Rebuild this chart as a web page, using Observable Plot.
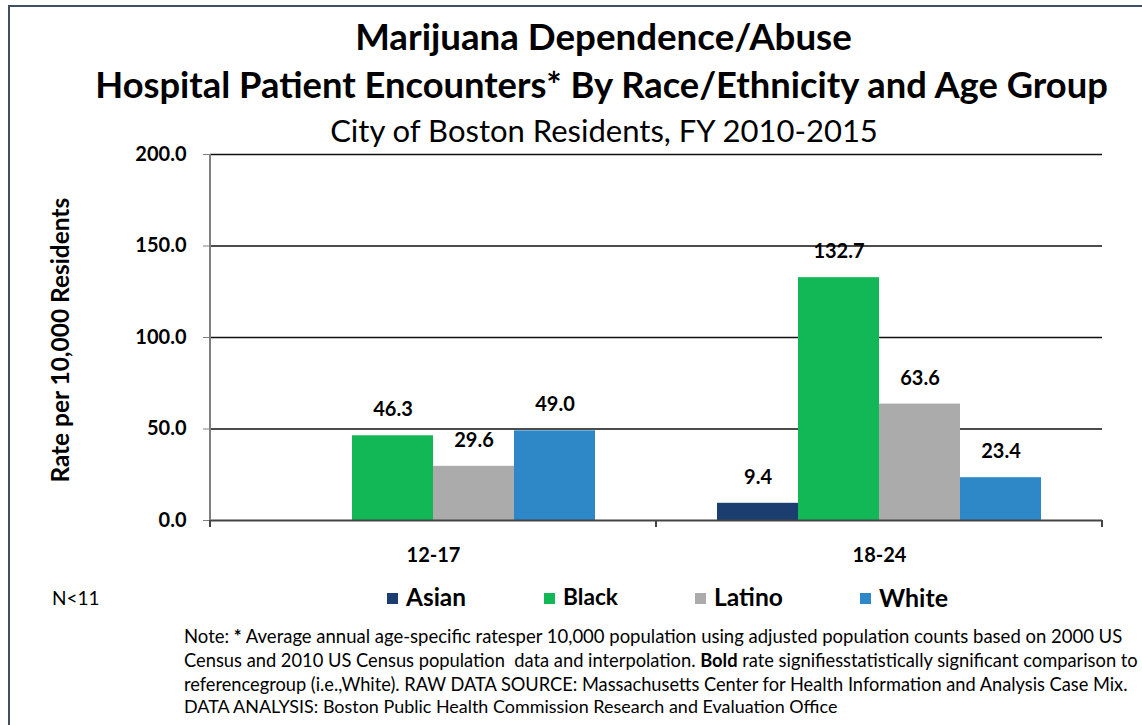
<!DOCTYPE html>
<html>
<head>
<meta charset="utf-8">
<script src="https://cdn.jsdelivr.net/npm/d3@7"></script>
<script src="https://cdn.jsdelivr.net/npm/@observablehq/plot@0.6"></script>
<style>
  html, body { margin: 0; padding: 0; background: #fff; width: 1142px; height: 725px; overflow: hidden; }
  body { position: relative; font-family: Lato, "Open Sans", sans-serif; }
  #frame { position: absolute; left: 8px; top: 5px; width: 1300px; height: 900px;
           border-left: 2px solid #3F4F63; border-top: 2px solid #3F4F63; }
  #chart { position: absolute; left: 0; top: 140px; }
  .t { position: absolute; white-space: nowrap; line-height: 1; color: #000; }
  .sw { position: absolute; width: 11px; height: 11px; }
</style>
</head>
<body>
<div id="frame"></div>
<div id="chart"></div>
<script>
// ---- data ----
const ageGroups = ["12-17", "18-24"];
const races = ["Asian", "Black", "Latino", "White"];
const asian  = [null, 9.4];   // 12-17 suppressed (N<11)
const black  = [46.3, 132.7];
const latino = [29.6, 63.6];
const white  = [49.0, 23.4];
const yTicks = [0, 50, 100, 150, 200];
const raceColors = ["#1B3D6F", "#12B856", "#ABABAB", "#2E88C8"];

const series = {Asian: asian, Black: black, Latino: latino, White: white};
const rows = [];
ageGroups.forEach((age, i) => {
  races.forEach(race => {
    const v = series[race][i];
    if (v != null) rows.push({age, race, value: v});
  });
});

// ---- text helper ----
function addText(html, o) {
  const el = document.createElement("div");
  el.className = "t";
  el.innerHTML = html;
  let fs = o.size;
  el.style.fontSize = fs + "px";
  el.style.fontWeight = o.weight || "normal";
  document.body.appendChild(el);
  if (o.width) {
    const w0 = el.getBoundingClientRect().width;
    fs = fs * o.width / w0;
    el.style.fontSize = fs + "px";
  }
  const w = el.getBoundingClientRect().width;
  const left = o.cx != null ? o.cx - w / 2 : o.x;
  el.style.left = left + "px";
  el.style.top = (o.cy - 0.53 * fs) + "px";
  if (o.rotate) {
    el.style.transformOrigin = "50% 50%";
    el.style.transform = "rotate(-90deg)";
    el.style.top = (o.cy - 0.5 * fs) + "px";
  }
  return fs;
}

addText("Marijuana Dependence/Abuse", {cx: 603.5, cy: 37.5, size: 35, weight: "bold", width: 497});
addText("Hospital Patient Encounters* By Race/Ethnicity and Age Group", {cx: 601.5, cy: 85, size: 35, weight: "bold", width: 1013});
addText("City of Boston Residents, FY 2010-2015", {cx: 604, cy: 131, size: 26, width: 548});
addText("Rate per 10,000 Residents", {cx: 60, cy: 340, size: 19, weight: "bold", width: 285, rotate: true});

// ---- chart ----
const plot = Plot.plot({
  width: 1142,
  height: 440,
  marginLeft: 210,
  marginRight: 40,
  marginTop: 14,
  marginBottom: 60,
  style: {fontFamily: "Lato, 'Open Sans', sans-serif", background: "transparent", color: "#000", overflow: "visible"},
  fx: {domain: ageGroups, padding: 0, label: null},
  x: {domain: races, paddingInner: 0, paddingOuter: 0.75, axis: null},
  y: {domain: [0, 200], label: null},
  color: {domain: races, range: raceColors},
  marks: [
    Plot.gridY(yTicks.slice(1), {stroke: "#111", strokeOpacity: 1, strokeWidth: 1.6}),
    Plot.barY(rows, {fx: "age", x: "race", y: "value", fill: "race"}),
    Plot.ruleY([0], {stroke: "#444", strokeWidth: 2}),
    Plot.axisY(yTicks, {tickFormat: d => d.toFixed(1), tickSize: 7, tickPadding: 17,
      fontSize: 20, fontWeight: "bold", stroke: "#808080", fill: "#000", label: null}),
    Plot.axisFx({anchor: "bottom", tickSize: 0, tickPadding: 27, fontSize: 20,
      fontWeight: "bold", fill: "#000", label: null}),
    Plot.text(rows, {fx: "age", x: "race", y: "value", text: d => d.value.toFixed(1),
      dy: -26, fontSize: 20, fontWeight: "bold", fill: "#000"})
  ]
});
document.getElementById("chart").appendChild(plot);

// axis line and between-category tick marks, positioned from the plot's own scales
const fx = plot.scale("fx");
const y = plot.scale("y");
const y0 = y.apply(0), yTop = y.apply(200);
const edges = ageGroups.map(a => fx.apply(a));
edges.push(fx.apply(ageGroups[ageGroups.length - 1]) + fx.bandwidth);
const svg = d3.select(plot);
const g = svg.append("g");
g.append("line").attr("x1", edges[0]).attr("x2", edges[0])
  .attr("y1", yTop).attr("y2", y0 + 7).attr("stroke", "#808080").attr("stroke-width", 2);
edges.forEach(e => {
  g.append("line").attr("x1", e).attr("x2", e).attr("y1", y0).attr("y2", y0 + 7)
    .attr("stroke", "#444").attr("stroke-width", 2);
});

// ---- legend ----
const legendSwatchX = [387, 544, 695, 860];
const legendTextW = [60, 55, 69, 69];
races.forEach((r, i) => {
  const sw = document.createElement("div");
  sw.className = "sw";
  sw.style.left = legendSwatchX[i] + "px";
  sw.style.top = (598 - 5.5) + "px";
  sw.style.background = raceColors[i];
  document.body.appendChild(sw);
  addText(r, {x: legendSwatchX[i] + 19, cy: 598, size: 22, weight: "bold", width: legendTextW[i]});
});
addText("N&lt;11", {x: 52, cy: 598, size: 19});

// ---- note ----
const noteLines = [
  "Note: <b>*</b> Average annual age-specific ratesper 10,000 population using adjusted population counts based on 2000 US",
  "Census and 2010 US Census population&nbsp; data and interpolation. <b>Bold</b> rate signifiesstatistically significant comparison to",
  "referencegroup (i.e.,White). RAW DATA SOURCE: Massachusetts Center for Health Information and Analysis Case Mix.",
  "DATA ANALYSIS: Boston Public Health Commission Research and Evaluation Office"
];
const noteY = [637, 661, 685, 708];
const noteW = [939, 954, 944, 654];
noteLines.forEach((l, i) => addText(l, {x: 184, cy: noteY[i], size: 16, width: noteW[i]}));
</script>
</body>
</html>
